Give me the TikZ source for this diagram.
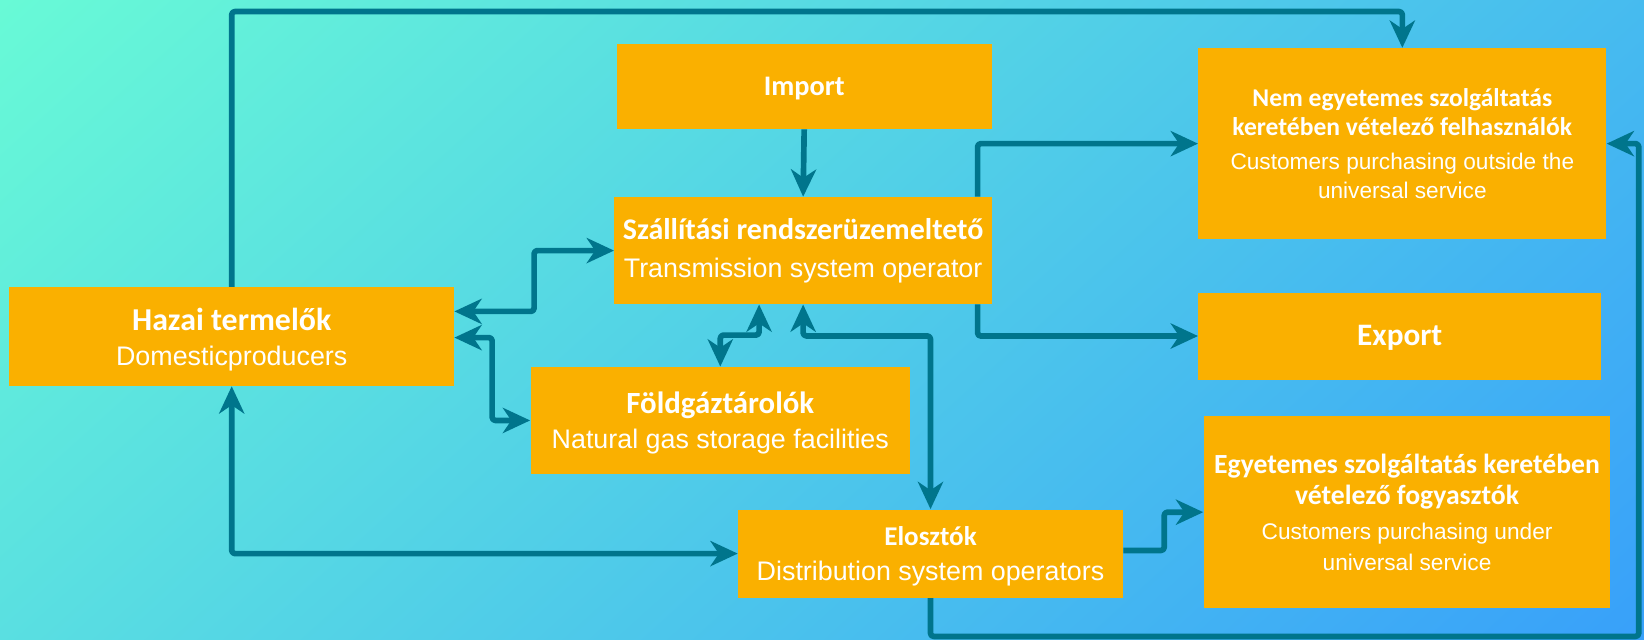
\documentclass[tikz,border=0pt]{standalone}
\usepackage{fontspec}
\setmainfont{Carlito}
\newfontfamily\engfont{Liberation Sans}
\usetikzlibrary{arrows.meta,calc}
\definecolor{mint}{RGB}{104,250,214}
\definecolor{skyb}{RGB}{56,160,250}
\definecolor{boxor}{RGB}{250,176,0}
\definecolor{teal}{RGB}{0,117,140}
\newcommand{\eng}[2]{{\engfont\fontsize{#1}{#1}\selectfont #2}}
\newcommand{\hb}[2]{{\fontsize{#1}{#1}\selectfont\bfseries #2}}
\newcommand{\dn}[2]{\raisebox{-#1}[\height][\depth]{#2}}
\begin{document}
\begin{tikzpicture}[x=0.5pt,y=-0.5pt,
  box/.style={rectangle, fill=boxor, inner sep=0pt, text=white, align=center},
  bs/.style={font=\fontsize{10}{#1}\selectfont},
  conn/.style={draw=teal, line width=2.7pt, rounded corners=1.5pt, line join=round},
  one/.style={conn, -{Stealth[length=13pt,width=12pt,inset=4pt]}},
  two/.style={conn, {Stealth[length=13pt,width=12pt,inset=4pt]}-{Stealth[length=13pt,width=12pt,inset=4pt]}}]
\useasboundingbox (0,0) rectangle (1568,610);
\begin{scope}
  \clip (0,0) rectangle (1568,610);
  \begin{scope}[x=1pt,y=1pt]
    \shade[transform canvas={rotate=-47.8}, left color=mint, right color=skyb]
      (0,-215) rectangle (753,595);
  \end{scope}
\end{scope}

\node[box, minimum width=179pt, minimum height=40.5pt] (imp) at (767,82.5) {\dn{1pt}{\hb{13.5}{Import}}};
\node[box, bs=18pt, minimum width=180pt, minimum height=51pt] (tso) at (766,239)
  {\hb{14.3}{Szállítási rendszerüzemeltető}\\\eng{12.8}{Transmission system operator}};
\node[box, bs=13.5pt, minimum width=194.5pt, minimum height=91pt] (neu) at (1337.5,137)
  {\hb{12.2}{Nem egyetemes szolgáltatás}\\\hb{12.2}{keretében vételező felhasználók}\\[3pt]\eng{10.8}{Customers purchasing outside the}\\\eng{10.8}{universal service}};
\node[box, minimum width=192pt, minimum height=41.5pt] (exp) at (1335,320.5) {\dn{1pt}{\hb{14.9}{Export}}};
\node[box, bs=17.5pt, minimum width=212pt, minimum height=47pt] (haz) at (221,321)
  {\dn{2pt}{\hb{15.2}{Hazai termelők}}\\\dn{1pt}{\eng{12.8}{Domesticproducers}}};
\node[box, bs=16.5pt, minimum width=181pt, minimum height=51pt] (fold) at (687,401)
  {\dn{1pt}{\hb{14.7}{Földgáztárolók}}\\\dn{1.5pt}{\eng{12.8}{Natural gas storage facilities}}};
\node[box, bs=16.5pt, minimum width=183.5pt, minimum height=42pt] (elo) at (887.5,528)
  {\dn{1pt}{\hb{12.9}{Elosztók}}\\\dn{1.5pt}{\eng{12.8}{Distribution system operators}}};
\node[box, bs=15pt, minimum width=194pt, minimum height=91.5pt] (egy) at (1342,488.5)
  {\hb{13.2}{Egyetemes szolgáltatás keretében}\\\hb{13.2}{vételező fogyasztók}\\[1.5pt]\eng{10.8}{Customers purchasing under}\\\eng{10.8}{universal service}};

\coordinate (topl) at (221,11);
\coordinate (botr) at (1563,607);

\draw[one] (imp.south) -- (tso.north);
\draw[one] (haz.north) |- (topl -| neu.north) -- (neu.north);
\draw[one] ([xshift=-7pt]tso.north east) |- (neu.west);
\draw[one] ([xshift=-7pt]tso.south east) |- (exp.west);
\draw[two] ([yshift=12pt]haz.east) -- ++(38pt,0) |- (tso.west);
\draw[two] ([yshift=-0.5pt]haz.east) -- ++(18pt,0) |- (fold.west);
\draw[two] (fold.north) -- ++(0,15pt) -| ([xshift=-21pt]tso.south);
\draw[two] (tso.south) -- ++(0,-15pt) -| (elo.north);
\draw[two] (haz.south) |- (elo.west);
\draw[one] ([yshift=1.5pt]elo.east) -- ++(19.5pt,0) |- (egy.west);
\draw[one] (elo.south) |- (botr) |- (neu.east);
\end{tikzpicture}
\end{document}
